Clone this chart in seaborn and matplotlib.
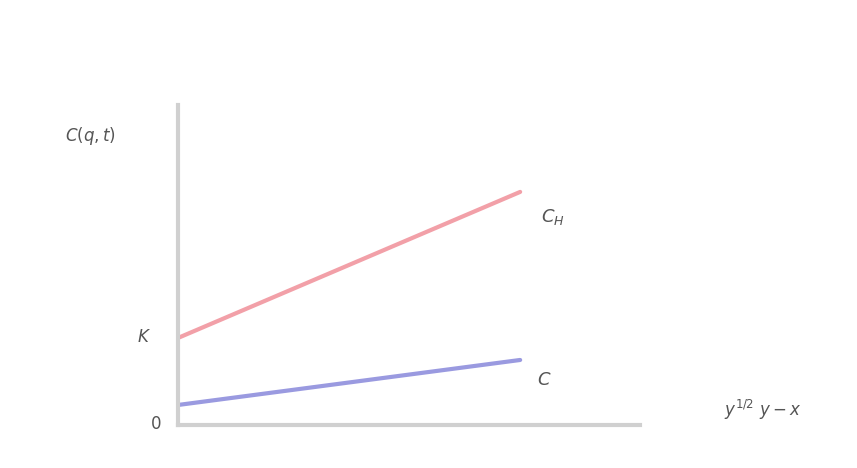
import matplotlib
matplotlib.use("Agg")
import matplotlib.pyplot as plt
import seaborn as sns
import pandas as pd

sns.set_theme(style="white")
plt.rcParams['font.family'] = ['DejaVu Serif']

# data
x_vals = [0, 10]
upper_curve = [8.7, 23.3]
lower_curve = [2.0, 6.5]
series_names = ["C_H", "C"]

df = pd.DataFrame({
    "x": x_vals * 2,
    "y": upper_curve + lower_curve,
    "series": [series_names[0]] * 2 + [series_names[1]] * 2,
})

fig = plt.figure(figsize=(8.57, 4.68), dpi=100)
ax = fig.add_axes([0.2077, 0.0919, 0.539, 0.684])
sns.lineplot(data=df, x="x", y="y", hue="series",
             palette={"C_H": "#f2a0a8", "C": "#9a9ae0"},
             linewidth=3, legend=False, ax=ax)
ax.set_xlim(0, 13.5)
ax.set_ylim(0, 32)
ax.set_xticks([])
ax.set_yticks([])
ax.set_xlabel("")
ax.set_ylabel("")
for s in ["top", "right"]:
    ax.spines[s].set_visible(False)
for s in ["left", "bottom"]:
    ax.spines[s].set_color("#d0d0d0")
    ax.spines[s].set_linewidth(3)

ax.text(10.6, 23.3 - 2.5, "$C_H$", fontsize=13, color="#555555", ha="left", va="center")
ax.text(10.5, 6.5 - 2.0, "$C$", fontsize=13, color="#555555", ha="left", va="center")
ax.text(-1.0, 8.7, "$K$", fontsize=12, color="#555555", ha="center", va="center")
ax.text(-0.65, 0, "$0$", fontsize=12, color="#555555", ha="center", va="center")
fig.text(0.105, 0.71, "$C(q,t)$", fontsize=12, color="#555555", ha="center", va="center")
fig.text(0.89, 0.125, "$y^{1/2}\\ y - x$", fontsize=12, color="#555555", ha="center", va="center")

fig.savefig("out.png", dpi=100)
